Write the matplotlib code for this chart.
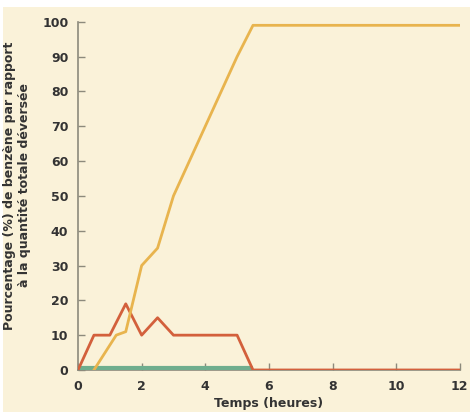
import matplotlib.pyplot as plt
from matplotlib.patches import Rectangle

# temps (heures) et pourcentage de benzene
t_jaune = [0.5, 1.2, 1.5, 2.0, 2.5, 3.0, 4.0, 5.0, 5.5, 12]
y_jaune = [0, 10, 11, 30, 35, 50, 70, 90, 99, 99]

t_rouge = [0, 0.5, 1.0, 1.5, 2.0, 2.5, 3.0, 5.0, 5.5, 12]
y_rouge = [0, 10, 10, 19, 10, 15, 10, 10, 0, 0]

t_vert = [0, 5.5]
y_vert = [0.6, 0.6]

xticks = [0, 2, 4, 6, 8, 10, 12]
yticks = [0, 10, 20, 30, 40, 50, 60, 70, 80, 90, 100]

plt.rcParams['font.family'] = ['DejaVu Sans']

fond = '#faf2d9'
fig = plt.figure(figsize=(4.73, 4.12), dpi=100)
fig.patch.set_facecolor('white')
fig.patches.append(Rectangle((0.006, 0.0), 0.988, 0.982, transform=fig.transFigure,
                             facecolor=fond, edgecolor='none', zorder=-10))

ax = fig.add_axes([0.165, 0.102, 0.807, 0.845])
ax.set_facecolor(fond)

ax.plot(t_vert, y_vert, color='#6fae8e', lw=3.0, solid_capstyle='butt', zorder=3)
ax.plot(t_rouge, y_rouge, color='#d3603c', lw=2.0, zorder=4)
ax.plot(t_jaune, y_jaune, color='#e8b44e', lw=2.0, zorder=5)

ax.set_xlim(0, 12)
ax.set_ylim(0, 100)
ax.set_xticks(xticks)
ax.set_yticks(yticks)

for s in ['top', 'right']:
    ax.spines[s].set_visible(False)
for s in ['left', 'bottom']:
    ax.spines[s].set_color('#8c8a7c')
    ax.spines[s].set_linewidth(1.2)

ax.tick_params(direction='in', length=5, width=1, color='#8c8a7c',
               labelsize=9, labelcolor='#333333', pad=7)
for lab in ax.get_xticklabels() + ax.get_yticklabels():
    lab.set_fontweight('bold')

ax.set_xlabel('Temps (heures)', fontsize=9, color='#333333', fontweight='bold', labelpad=3)
ax.set_ylabel('Pourcentage (%) de benzène par rapport\nà la quantité totale déversée',
              fontsize=9, color='#333333', fontweight='bold', labelpad=8, y=0.53)

fig.savefig('out.png', dpi=100, facecolor=fig.get_facecolor())
